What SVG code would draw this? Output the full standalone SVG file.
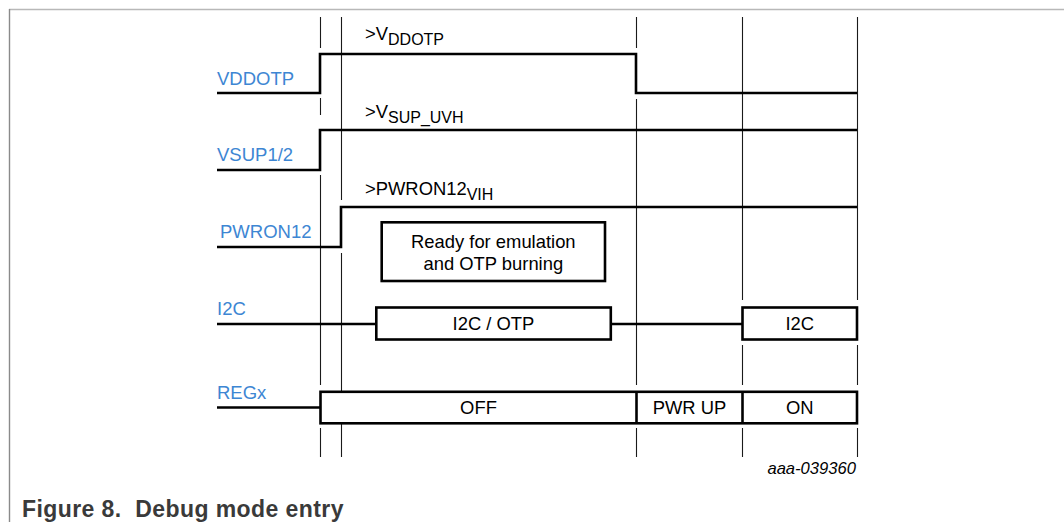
<svg xmlns="http://www.w3.org/2000/svg" width="1064" height="522" viewBox="0 0 1064 522">
<style>
.grid{stroke:#1a1a1a;stroke-width:1.1;fill:none}
.sig{stroke:#000;stroke-width:2.6;fill:none;stroke-linejoin:miter}
.box{stroke:#000;stroke-width:2.6;fill:#fff}
.lbl{font-family:"Liberation Sans",Arial,sans-serif;font-size:18.5px;fill:#3d86d3}
.txt{font-family:"Liberation Sans",Arial,sans-serif;font-size:18.4px;fill:#000}
.sub{font-size:16px}
</style>
<rect x="0" y="0" width="1064" height="522" fill="#fff"/>
<g id="frame">
<line x1="9" y1="9.5" x2="1064" y2="9.5" stroke="#b8b8b8" stroke-width="1.6"/>
<line x1="9.5" y1="9" x2="9.5" y2="522" stroke="#8a8a8a" stroke-width="1.4"/>
</g>
<g id="gridlines" class="grid">
<path d="M320.5 17V48 M320.5 98V115 M320.5 175V385 M320.5 428V457"/>
<path d="M341.5 17V200 M341.5 253V457"/>
<path d="M636.5 17V48 M636.5 99V385 M636.5 428V457"/>
<path d="M742.5 17V300 M742.5 345V385 M742.5 428V457"/>
<path d="M857.5 17V300 M857.5 345V385 M857.5 428V457"/>
</g>
<g id="connectors">
<path class="sig" d="M217 93H320V54H636V93H857"/>
<path class="sig" d="M217 170H320V130H857"/>
<path class="sig" d="M217 247H341V207H857"/>
<path class="sig" d="M217 324H376 M611 324H742"/>
<path class="sig" d="M217 407.5H320"/>
</g>
<g id="vddotp">
<text class="lbl" x="217" y="85">VDDOTP</text>
<text class="txt" x="365" y="39.5">&gt;V<tspan class="sub" dy="5">DDOTP</tspan></text>
</g>
<g id="vsup">
<text class="lbl" x="217" y="161">VSUP1/2</text>
<text class="txt" x="365" y="118">&gt;V<tspan class="sub" dy="5">SUP_UVH</tspan></text>
</g>
<g id="pwron12">
<text class="lbl" x="220" y="238">PWRON12</text>
<text class="txt" x="365" y="195">&gt;PWRON12<tspan class="sub" dy="4.5">VIH</tspan></text>
</g>
<g id="ready">
<rect class="box" x="381.7" y="222.3" width="223.3" height="58.7"/>
<text class="txt" x="493.3" y="248.3" text-anchor="middle">Ready for emulation</text>
<text class="txt" x="493.3" y="270.3" text-anchor="middle">and OTP burning</text>
</g>
<g id="i2c">
<text class="lbl" x="217" y="315">I2C</text>
<rect class="box" x="376.3" y="307.5" width="234.5" height="32"/>
<text class="txt" x="493.5" y="330.2" text-anchor="middle">I2C / OTP</text>
<rect class="box" x="742.5" y="307.5" width="114.5" height="32"/>
<text class="txt" x="799.7" y="330.2" text-anchor="middle">I2C</text>
</g>
<g id="regx">
<text class="lbl" x="217" y="399">REGx</text>
<rect class="box" x="320.5" y="391.8" width="536.5" height="31.5"/>
<line class="sig" x1="636.5" y1="391.8" x2="636.5" y2="423.3"/>
<line class="sig" x1="742.5" y1="391.8" x2="742.5" y2="423.3"/>
<text class="txt" x="478.5" y="414.3" text-anchor="middle">OFF</text>
<text class="txt" x="689.5" y="414.3" text-anchor="middle">PWR UP</text>
<text class="txt" x="799.7" y="414.3" text-anchor="middle">ON</text>
</g>
<g id="caption">
<text x="856" y="473.5" text-anchor="end" font-family="'Liberation Sans',Arial,sans-serif" font-size="16.6" font-style="italic" fill="#000">aaa-039360</text>
<text x="22" y="516.5" font-family="'Liberation Sans',Arial,sans-serif" font-size="23" font-weight="bold" fill="#3a3a3a" textLength="321.5" lengthAdjust="spacing" xml:space="preserve">Figure 8.  Debug mode entry</text>
</g>
</svg>
